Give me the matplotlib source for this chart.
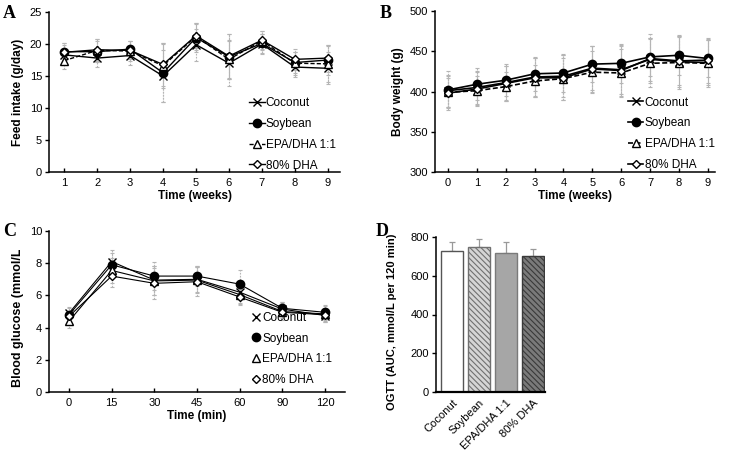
import matplotlib
matplotlib.use("Agg")
import matplotlib.pyplot as plt
from matplotlib.lines import Line2D
from matplotlib.transforms import Bbox, TransformedBbox

plt.rcParams['font.family'] = ['Liberation Sans', 'DejaVu Sans']
plt.rcParams['hatch.linewidth'] = 0.8

# -------------------------
# Data
# -------------------------
groups = ["Coconut", "Soybean", "EPA/DHA 1:1", "80% DHA"]

# A: feed intake (g/day), weeks 1-9
weeks_a = [1, 2, 3, 4, 5, 6, 7, 8, 9]
feed_coconut = [18.3, 17.8, 18.2, 15.0, 19.9, 17.0, 20.0, 16.4, 16.2]
feed_soybean = [18.8, 18.8, 19.2, 15.5, 21.0, 18.0, 20.1, 17.1, 17.5]
feed_epa = [17.4, 19.0, 18.9, 16.6, 21.2, 17.6, 20.5, 17.0, 16.9]
feed_dha = [18.7, 19.1, 19.0, 16.8, 21.3, 18.1, 20.6, 17.6, 17.8]
feed_sd_coconut = [1.6, 1.4, 1.5, 4.0, 2.5, 3.5, 1.6, 1.5, 2.5]
feed_sd_soybean = [1.4, 1.6, 1.3, 4.5, 2.2, 3.5, 1.5, 1.7, 2.4]
feed_sd_epa = [1.3, 1.8, 1.5, 3.5, 2.1, 3.0, 1.5, 1.8, 2.8]
feed_sd_dha = [1.5, 1.7, 1.4, 3.3, 2.0, 3.4, 1.4, 1.6, 2.1]

# B: body weight (g), weeks 0-9
weeks_b = [0, 1, 2, 3, 4, 5, 6, 7, 8, 9]
bw_coconut = [401, 405, 411, 418, 419, 429, 427, 440, 437, 436]
bw_soybean = [402, 409, 414, 422, 423, 434, 435, 443, 445, 441]
bw_epa = [399, 401, 406, 413, 416, 424, 423, 435, 436, 435]
bw_dha = [398, 403, 410, 417, 417, 428, 426, 441, 438, 439]
bw_sd_coconut = [20, 20, 21, 23, 26, 27, 30, 27, 32, 28]
bw_sd_soybean = [23, 20, 20, 21, 23, 22, 24, 24, 25, 23]
bw_sd_epa = [18, 18, 18, 20, 26, 26, 30, 30, 33, 30]
bw_sd_dha = [21, 21, 22, 24, 28, 29, 32, 31, 30, 28]

# C: blood glucose (mmol/L) during OGTT
times_c = ["0", "15", "30", "45", "60", "90", "120"]
glu_coconut = [4.9, 8.1, 6.95, 7.0, 6.2, 5.15, 4.75]
glu_soybean = [4.8, 7.9, 7.2, 7.2, 6.7, 5.2, 4.95]
glu_epa = [4.4, 7.55, 6.9, 6.95, 6.05, 5.0, 4.85]
glu_dha = [4.7, 7.2, 6.75, 6.85, 5.9, 4.95, 4.8]
glu_sd_coconut = [0.35, 0.7, 0.9, 0.8, 0.7, 0.45, 0.4]
glu_sd_soybean = [0.4, 0.75, 0.85, 0.6, 0.85, 0.4, 0.45]
glu_sd_epa = [0.4, 0.8, 0.9, 0.8, 0.6, 0.5, 0.5]
glu_sd_dha = [0.35, 0.7, 0.95, 0.9, 0.5, 0.35, 0.4]

# D: OGTT area under curve
auc = [730, 748, 719, 704]
auc_sd = [45, 43, 57, 32]

# -------------------------
# Styles
# -------------------------
styles = [
    dict(marker='x', mfc='black', mec='black', ms=5.5, ls='-'),
    dict(marker='o', mfc='black', mec='black', ms=6, ls='-'),
    dict(marker='^', mfc='white', mec='black', ms=5.5, ls=(0, (3, 1.5))),
    dict(marker='D', mfc='white', mec='black', ms=4.5, ls='-'),
]

fig = plt.figure(figsize=(7.29, 4.58), dpi=100)


def axes_px(l, t, r, b):
    W, H = 729, 458
    return fig.add_axes([l / W, 1 - b / H, (r - l) / W, (b - t) / H])


def style_axes(ax):
    for s in ['top', 'right']:
        ax.spines[s].set_visible(False)
    for s in ['left', 'bottom']:
        ax.spines[s].set_linewidth(1.1)
    ax.tick_params(axis='y', direction='out', length=3, width=1, labelsize=8, pad=2)
    ax.tick_params(axis='x', direction='in', length=3, width=1, labelsize=8, pad=4)


def line_panel(ax, x, series, sds, lw=1.0, solid=False):
    for y, sd in zip(series, sds):
        eb = ax.errorbar(x, y, yerr=sd, fmt='none', ecolor='#b5b5b5',
                         elinewidth=0.8, capsize=1.5, capthick=0.8, zorder=1)
        eb[2][0].set_linestyle((0, (1.5, 1.2)))
    for y, st, name in zip(series, styles, groups):
        ls = '-' if solid else st['ls']
        ax.plot(x, y, color='black', lw=lw, ls=ls, marker=st['marker'],
                mfc=st['mfc'], mec=st['mec'], ms=st['ms'], mew=1.0,
                label=name, zorder=3)


# -------------------------
# Panel A
# -------------------------
axA = axes_px(49, 12, 340, 172)
line_panel(axA, weeks_a, [feed_coconut, feed_soybean, feed_epa, feed_dha],
           [feed_sd_coconut, feed_sd_soybean, feed_sd_epa, feed_sd_dha])
axA.set_xlim(0.54, 9.37)
axA.set_ylim(0, 25)
axA.set_xticks(weeks_a)
axA.set_yticks([0, 5, 10, 15, 20, 25])
axA.set_xlabel("Time (weeks)", fontsize=8.5, fontweight='bold', labelpad=2)
axA.set_ylabel("Feed intake (g/day)", fontsize=8.5, fontweight='bold', labelpad=4)
style_axes(axA)
axA.legend(loc='upper left', bbox_to_anchor=(0.66, 0.52), frameon=False,
           fontsize=8.5, handlelength=1.3, handletextpad=0.1,
           labelspacing=0.75, borderpad=0.2)

# -------------------------
# Panel B
# -------------------------
axB = axes_px(435, 11, 715, 172)
line_panel(axB, weeks_b, [bw_coconut, bw_soybean, bw_epa, bw_dha],
           [bw_sd_coconut, bw_sd_soybean, bw_sd_epa, bw_sd_dha], lw=1.2)
axB.set_xlim(-0.45, 9.25)
axB.set_ylim(300, 500)
axB.set_xticks(weeks_b)
axB.set_yticks([300, 350, 400, 450, 500])
axB.set_xlabel("Time (weeks)", fontsize=8.5, fontweight='bold', labelpad=2)
axB.set_ylabel("Body weight (g)", fontsize=8.5, fontweight='bold', labelpad=4)
style_axes(axB)
axB.legend(loc='upper left', bbox_to_anchor=(0.66, 0.52), frameon=False,
           fontsize=8.5, handlelength=1.3, handletextpad=0.1,
           labelspacing=0.75, borderpad=0.2)

# -------------------------
# Panel C
# -------------------------
axC = axes_px(49, 231, 345, 392)
xc = list(range(len(times_c)))
line_panel(axC, xc, [glu_coconut, glu_soybean, glu_epa, glu_dha],
           [glu_sd_coconut, glu_sd_soybean, glu_sd_epa, glu_sd_dha],
           lw=0.8, solid=True)
axC.set_xlim(-0.47, 6.47)
axC.set_ylim(0, 10)
axC.set_xticks(xc)
axC.set_xticklabels(times_c)
axC.set_yticks([0, 2, 4, 6, 8, 10])
axC.set_xlabel("Time (min)", fontsize=8.5, fontweight='bold', labelpad=2)
axC.set_ylabel("Blood glucose (mmol/L)", fontsize=9, fontweight='bold')
# label starts near the bottom and is cut off at the top, as in the source figure
axC.yaxis.label.set_ha('left')
axC.yaxis.set_label_coords(-0.083, 0.03)
clip = TransformedBbox(Bbox([[0, 0], [1, 1 - 250 / 458]]), fig.transFigure)
axC.yaxis.label.set_clip_box(clip)
axC.yaxis.label.set_clip_on(True)
style_axes(axC)
handles = [Line2D([], [], ls='None', marker=st['marker'], mfc=st['mfc'],
                  mec=st['mec'], ms=st['ms'], mew=1.0) for st in styles]
axC.legend(handles, groups, loc='upper left', bbox_to_anchor=(0.66, 0.55),
           frameon=False, fontsize=8.5, handlelength=0.6, handletextpad=0.2,
           labelspacing=0.75, borderpad=0.2)

# -------------------------
# Panel D
# -------------------------
axD = axes_px(436, 237, 545, 392)
xd = list(range(len(groups)))
faces = ['white', '#d5d5d5', '#a6a6a6', '#7a7a7a']
edges = ['#555555', '#707070', '#7a7a7a', '#3a3a3a']
hatches = ['', '\\\\\\\\\\\\', '', '\\\\\\\\\\\\']
for i in xd:
    axD.bar(xd[i], auc[i], width=0.82, color=faces[i], edgecolor=edges[i],
            hatch=hatches[i], linewidth=1.0, zorder=2)
axD.errorbar(xd, auc, yerr=[[0] * len(auc), auc_sd], fmt='none',
             ecolor='#999999', elinewidth=0.9, capsize=2, capthick=0.9, zorder=1)
axD.set_xlim(-0.6, 3.45)
axD.set_ylim(0, 800)
axD.set_yticks([0, 200, 400, 600, 800])
axD.set_xticks(xd)
axD.set_xticklabels(groups, rotation=45, ha='right', rotation_mode='anchor')
axD.set_ylabel("OGTT (AUC, mmol/L per 120 min)", fontsize=8, fontweight='bold')
axD.yaxis.set_label_coords(-0.36, 0.45)
style_axes(axD)
axD.tick_params(axis='x', length=0, pad=4)
axD.spines['bottom'].set_linewidth(1.6)

# -------------------------
# Panel letters
# -------------------------
for lab, x, y in [("A", 3, 18), ("B", 380, 18), ("C", 3, 236), ("D", 376, 236)]:
    fig.text(x / 729, 1 - y / 458, lab, fontsize=13, fontweight='bold',
             family='Liberation Serif', va='baseline')

fig.savefig("out.png", dpi=100)
